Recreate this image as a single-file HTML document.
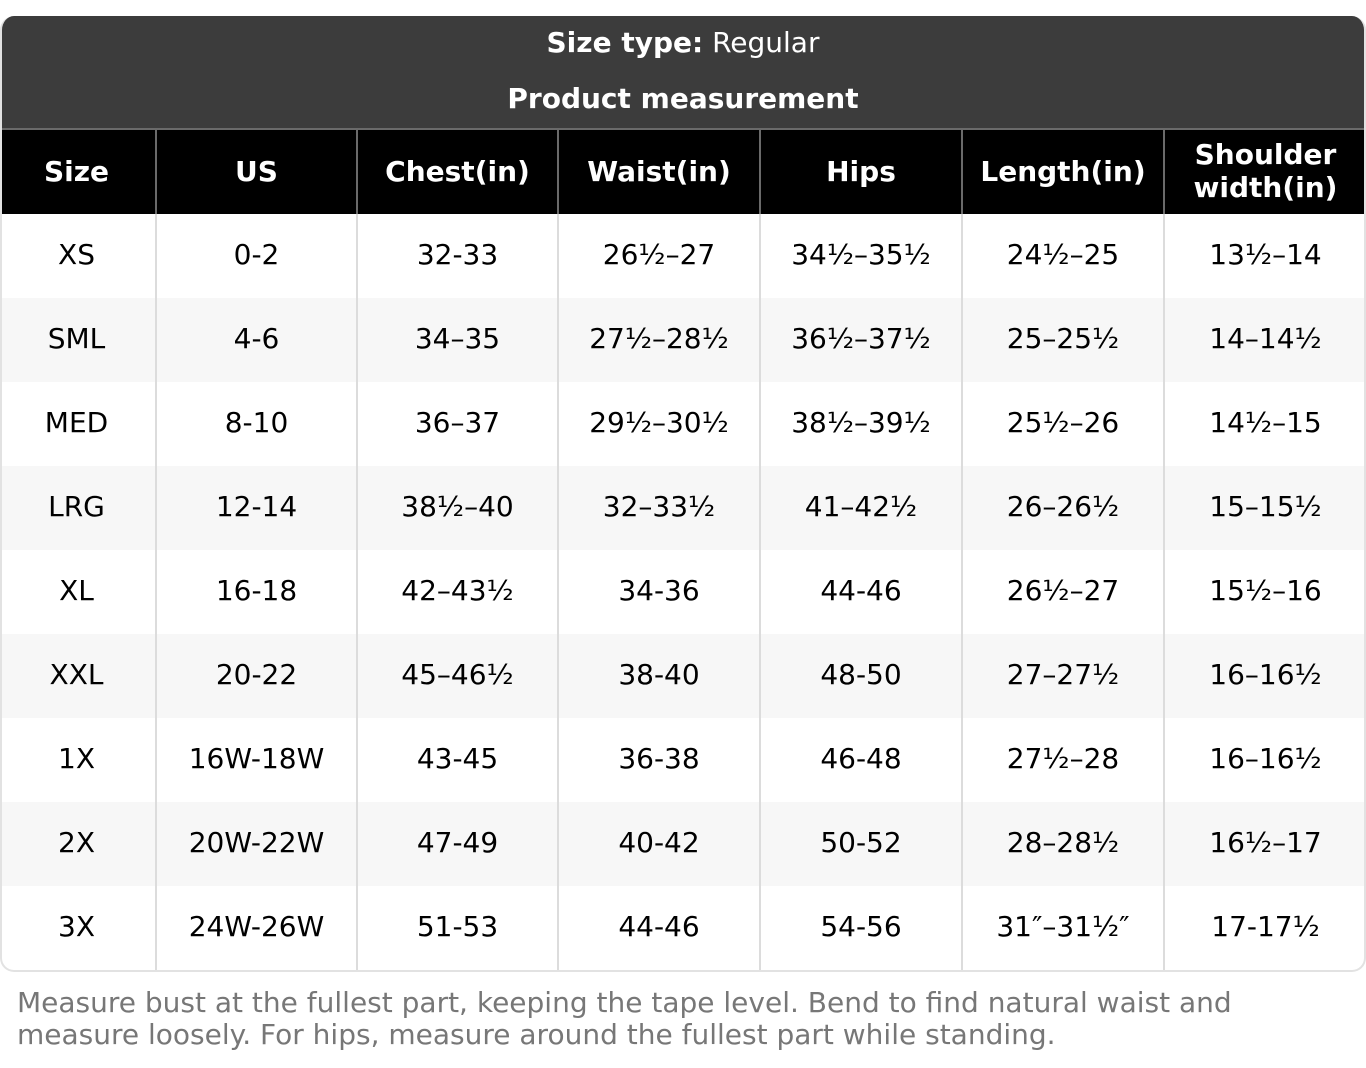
<!DOCTYPE html>
<html><head><meta charset="utf-8"><style>
*{margin:0;padding:0;box-sizing:border-box}
body{width:1366px;height:1068px;background:#fff;font-family:"DejaVu Sans","Liberation Sans",sans-serif;position:relative;overflow:hidden}
.wrap{position:absolute;left:0;top:16px;width:1366px;height:956px;border-radius:14px;overflow:hidden;border:2px solid #e2e2e2;border-top:none}
.top{position:absolute;left:-2px;top:0;width:1366px;height:114px;background:#3c3c3c;color:#fff;text-align:center;border-bottom:2px solid #6a6a6a}
.t1{position:absolute;top:10px;width:100%;font-size:28px;line-height:34px}
.t2{position:absolute;top:66px;width:100%;font-size:28px;line-height:34px;font-weight:bold}
.row{position:absolute;left:-4px;width:1368px;height:84px;display:flex}
.row div{height:84px;display:flex;align-items:center;justify-content:center;text-align:center;font-size:28px;border-left:2px solid #dcdcdc;padding-bottom:4px}
.row div:first-child{border-left:none}
.hdr{background:#000;color:#fff;font-weight:bold}
.hdr div{border-left:2px solid #6a6a6a!important;line-height:33px;padding-bottom:2px!important}
.hdr div:first-child{border-left:none!important}
.alt{background:#f7f7f7}
.c1{width:157px}.c2{width:201px}.c3{width:201px}.c4{width:202px}.c5{width:202px}.c6{width:202px}.c7{width:203px}
.note{position:absolute;left:17px;top:987px;font-size:28px;line-height:32px;color:#777}
</style></head><body>
<div class="wrap">
<div class="top"><div class="t1"><b>Size type:</b> Regular</div><div class="t2">Product measurement</div></div>
<div class="row hdr" style="top:114px"><div class="c1">Size</div><div class="c2">US</div><div class="c3">Chest(in)</div><div class="c4">Waist(in)</div><div class="c5">Hips</div><div class="c6">Length(in)</div><div class="c7">Shoulder<br>width(in)</div></div>
<div class="row" style="top:198px"><div class="c1">XS</div><div class="c2">0-2</div><div class="c3">32-33</div><div class="c4">26½–27</div><div class="c5">34½–35½</div><div class="c6">24½–25</div><div class="c7">13½–14</div></div>
<div class="row alt" style="top:282px"><div class="c1">SML</div><div class="c2">4-6</div><div class="c3">34–35</div><div class="c4">27½–28½</div><div class="c5">36½–37½</div><div class="c6">25–25½</div><div class="c7">14–14½</div></div>
<div class="row" style="top:366px"><div class="c1">MED</div><div class="c2">8-10</div><div class="c3">36–37</div><div class="c4">29½–30½</div><div class="c5">38½–39½</div><div class="c6">25½–26</div><div class="c7">14½–15</div></div>
<div class="row alt" style="top:450px"><div class="c1">LRG</div><div class="c2">12-14</div><div class="c3">38½–40</div><div class="c4">32–33½</div><div class="c5">41–42½</div><div class="c6">26–26½</div><div class="c7">15–15½</div></div>
<div class="row" style="top:534px"><div class="c1">XL</div><div class="c2">16-18</div><div class="c3">42–43½</div><div class="c4">34-36</div><div class="c5">44-46</div><div class="c6">26½–27</div><div class="c7">15½–16</div></div>
<div class="row alt" style="top:618px"><div class="c1">XXL</div><div class="c2">20-22</div><div class="c3">45–46½</div><div class="c4">38-40</div><div class="c5">48-50</div><div class="c6">27–27½</div><div class="c7">16–16½</div></div>
<div class="row" style="top:702px"><div class="c1">1X</div><div class="c2">16W-18W</div><div class="c3">43-45</div><div class="c4">36-38</div><div class="c5">46-48</div><div class="c6">27½–28</div><div class="c7">16–16½</div></div>
<div class="row alt" style="top:786px"><div class="c1">2X</div><div class="c2">20W-22W</div><div class="c3">47-49</div><div class="c4">40-42</div><div class="c5">50-52</div><div class="c6">28–28½</div><div class="c7">16½–17</div></div>
<div class="row" style="top:870px"><div class="c1">3X</div><div class="c2">24W-26W</div><div class="c3">51-53</div><div class="c4">44-46</div><div class="c5">54-56</div><div class="c6">31″–31½″</div><div class="c7">17-17½</div></div>
</div>
<div class="note">Measure bust at the fullest part, keeping the tape level. Bend to find natural waist and<br>measure loosely. For hips, measure around the fullest part while standing.</div>
</body></html>
